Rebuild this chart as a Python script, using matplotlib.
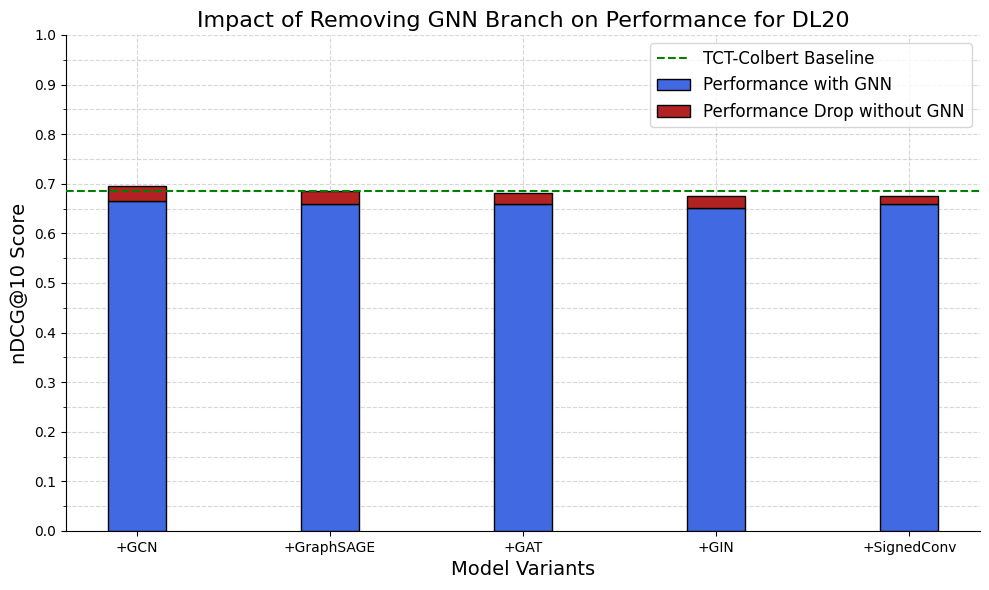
import numpy as np
import matplotlib.pyplot as plt
from matplotlib.ticker import MultipleLocator

models = ["+GCN", "+GraphSAGE", "+GAT", "+GIN", "+SignedConv"]
with_gnn = [0.666, 0.659, 0.660, 0.652, 0.660]
full_score = [0.696, 0.685, 0.681, 0.675, 0.675]
baseline = 0.686

drop = [f - w for f, w in zip(full_score, with_gnn)]
x = np.arange(len(models))

fig, ax = plt.subplots(figsize=(9.89, 5.9), dpi=100)
ax.bar(x, with_gnn, width=0.3, color="royalblue", edgecolor="black",
       label="Performance with GNN", zorder=3)
ax.bar(x, drop, width=0.3, bottom=with_gnn, color="firebrick", edgecolor="black",
       label="Performance Drop without GNN", zorder=3)
ax.axhline(baseline, color="green", linestyle="--", linewidth=1.5,
           label="TCT-Colbert Baseline", zorder=4)

ax.set_xticks(x)
ax.set_xticklabels(models)
ax.set_ylim(0, 1.0)
ax.yaxis.set_major_locator(MultipleLocator(0.1))
ax.yaxis.set_minor_locator(MultipleLocator(0.05))
ax.grid(True, which="both", linestyle="--", alpha=0.5, zorder=0)
ax.spines["top"].set_visible(False)
ax.spines["right"].set_visible(False)

ax.set_title("Impact of Removing GNN Branch on Performance for DL20", fontsize=16)
ax.set_xlabel("Model Variants", fontsize=14)
ax.set_ylabel("nDCG@10 Score", fontsize=14)
ax.legend(fontsize=12, loc="upper right")

fig.subplots_adjust(left=66/989, right=980/989, top=1-35/590, bottom=1-531/590)
plt.savefig("out.png")
plt.close()
